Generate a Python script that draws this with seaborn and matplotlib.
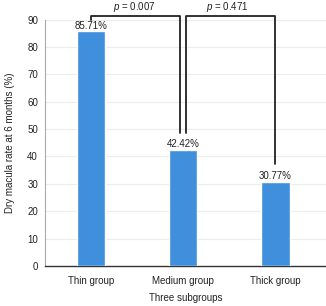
import matplotlib
matplotlib.use("Agg")
import matplotlib.pyplot as plt
import seaborn as sns
import pandas as pd

categories = ["Thin group", "Medium group", "Thick group"]
values = [85.71, 42.42, 30.77]
labels = ["85.71%", "42.42%", "30.77%"]
p_values = ["0.007", "0.471"]
yticks = [0, 10, 20, 30, 40, 50, 60, 70, 80, 90]

sns.set_theme(style="white")
plt.rcParams['font.family'] = ['Liberation Sans', 'DejaVu Sans']
plt.rcParams['mathtext.fontset'] = 'custom'
plt.rcParams['mathtext.it'] = 'Liberation Sans:italic'

df = pd.DataFrame({"group": categories, "rate": values})

fig = plt.figure(figsize=(3.26, 3.06), dpi=100)
ax = fig.add_axes([0.138, 0.131, 0.862, 0.805])
sns.barplot(data=df, x="group", y="rate", color="#3f8fdc", width=0.31,
            saturation=1, ax=ax, zorder=3)
ax.set_xlim(-0.5, 2.55)
ax.set_ylim(0, 90)
ax.set_yticks(yticks)
ax.yaxis.grid(True, color="#ececec", linewidth=0.8, zorder=0)
ax.set_axisbelow(True)
for s in ["top", "right"]:
    ax.spines[s].set_visible(False)
ax.spines["left"].set_color("#aaaaaa")
ax.spines["left"].set_linewidth(0.8)
ax.spines["bottom"].set_color("#333333")
ax.spines["bottom"].set_linewidth(1.0)
ax.tick_params(axis="x", labelsize=7, colors="#222222", length=0, pad=7)
ax.tick_params(axis="y", labelsize=7, colors="#222222", length=0, pad=5)
ax.set_xlabel("Three subgroups", fontsize=7, color="#222222", labelpad=5)
ax.set_ylabel("Dry macula rate at 6 months (%)", fontsize=7, color="#222222", labelpad=9)

for i, (v, lab) in enumerate(zip(values, labels)):
    ax.text(i, v + 2.0, lab, ha="center", va="center", fontsize=7, color="#222222")

# significance brackets
top = 91.3
kw = dict(color="#222222", linewidth=1.3, clip_on=False)
ax.plot([0, 0, 0.965, 0.965], [values[0] + 4.3, top, top, values[1] + 6.0], **kw)
ax.plot([1.035, 1.035, 2, 2], [values[1] + 6.0, top, top, values[2] + 6.4], **kw)
ax.text(0.47, 94.6, "$\\it{p}$ = " + p_values[0], ha="center", va="center",
        fontsize=7, color="#222222")
ax.text(1.48, 94.6, "$\\it{p}$ = " + p_values[1], ha="center", va="center",
        fontsize=7, color="#222222")

fig.savefig("out.png", dpi=100)
